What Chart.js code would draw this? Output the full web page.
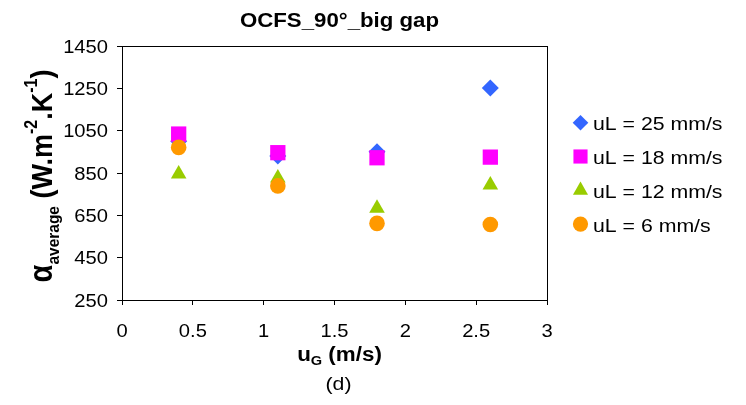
<!DOCTYPE html>
<html>
<head>
<meta charset="utf-8">
<script src="https://cdn.jsdelivr.net/npm/chart.js@4/dist/chart.umd.min.js"></script>
<style>
  html, body { margin: 0; padding: 0; background: #fff; }
  #wrap { width: 746px; height: 405px; }
</style>
</head>
<body>
<div id="wrap"><canvas id="c"></canvas></div>
<script>
// gas velocity (m/s)
var uG = [0.4, 1.1, 1.8, 2.6];

// average heat transfer coefficient (W.m-2.K-1)
var uL25 = [1000, 930, 950, 1252];
var uL18 = [1034, 946, 922, 925];
var uL12 = [845, 826, 683, 793];
var uL6  = [971, 789, 612, 607];

var seriesNames = ['uL = 25 mm/s', 'uL = 18 mm/s', 'uL = 12 mm/s', 'uL = 6 mm/s'];

var xTicks = [0, 0.5, 1, 1.5, 2, 2.5, 3];
var yTicks = [250, 450, 650, 850, 1050, 1250, 1450];

function pts(ys) {
  return uG.map(function (x, i) { return { x: x, y: ys[i] }; });
}

var FONT = '"Liberation Sans", Arial, sans-serif';
var SX = 1.12; // the original text is a little wide

var data = {
  datasets: [
    { label: seriesNames[0], data: pts(uL25), pointStyle: 'rectRot', pointRadius: 8.5,
      backgroundColor: '#3366FF', borderColor: '#3366FF', borderWidth: 0, order: 4 },
    { label: seriesNames[1], data: pts(uL18), pointStyle: 'rect', pointRadius: 10.8,
      backgroundColor: '#FF00FF', borderColor: '#FF00FF', borderWidth: 0, order: 3 },
    { label: seriesNames[2], data: pts(uL12), pointStyle: 'triangle', pointRadius: 9,
      backgroundColor: '#99CC00', borderColor: '#99CC00', borderWidth: 0, order: 2 },
    { label: seriesNames[3], data: pts(uL6), pointStyle: 'circle', pointRadius: 7.8,
      backgroundColor: '#FF9900', borderColor: '#FF9900', borderWidth: 0, order: 1 }
  ]
};

function txt(ctx, s, x, y, font, align) {
  ctx.save();
  ctx.font = font;
  ctx.textAlign = align || 'left';
  ctx.textBaseline = 'alphabetic';
  ctx.translate(x, y);
  ctx.scale(SX, 1);
  ctx.fillText(s, 0, 0);
  ctx.restore();
}

// a run of text pieces with sub/superscripts, centred on cx
function run(ctx, parts, cx, y, sx) {
  var total = 0;
  parts.forEach(function (p) { ctx.font = p.f; total += ctx.measureText(p.t).width; });
  ctx.save();
  ctx.translate(cx, y);
  ctx.scale(sx, 1);
  var x = -total / 2;
  ctx.textAlign = 'left';
  ctx.textBaseline = 'alphabetic';
  parts.forEach(function (p) {
    ctx.font = p.f;
    ctx.fillText(p.t, x, p.dy);
    x += ctx.measureText(p.t).width;
  });
  ctx.restore();
}

var decor = {
  id: 'decor',
  afterDraw: function (chart) {
    var ctx = chart.ctx;
    var a = chart.chartArea;
    var xs = chart.scales.x, ys = chart.scales.y;
    var cx = (a.left + a.right) / 2;
    ctx.save();

    // frame
    ctx.strokeStyle = '#000';
    ctx.lineWidth = 1;
    ctx.strokeRect(a.left + 0.5, a.top + 0.5, a.right - a.left, a.bottom - a.top);

    ctx.fillStyle = '#000';

    // tick labels
    var tf = '18px ' + FONT;
    xTicks.forEach(function (v) {
      txt(ctx, String(v), xs.getPixelForValue(v), a.bottom + 37, tf, 'center');
    });
    yTicks.forEach(function (v) {
      txt(ctx, String(v), a.left - 14, ys.getPixelForValue(v) + 6.5, tf, 'right');
    });

    // title
    run(ctx, [{ t: 'OCFS_90°_big gap', f: 'bold 19.5px ' + FONT, dy: 0 }], cx + 5, 27, 1.14);

    // x title: u_G (m/s)
    run(ctx, [
      { t: 'u', f: 'bold 20px ' + FONT, dy: 0 },
      { t: 'G', f: 'bold 13px ' + FONT, dy: 4 },
      { t: ' (m/s)', f: 'bold 20px ' + FONT, dy: 0 }
    ], cx + 5, 361, SX);

    // caption
    txt(ctx, '(d)', cx + 4, 390, '19px ' + FONT, 'center');

    // y title, rotated
    ctx.save();
    ctx.translate(52, 176);
    ctx.rotate(-Math.PI / 2);
    ctx.scale(1, SX);
    var parts = [
      { t: 'α', f: 'bold 29px ' + FONT, dy: 0 },
      { t: 'average', f: 'bold 15.5px ' + FONT, dy: 6 },
      { t: ' (W.m', f: 'bold 27px ' + FONT, dy: 0 },
      { t: '-2', f: 'bold 16px ' + FONT, dy: -13 },
      { t: '.K', f: 'bold 27px ' + FONT, dy: 0 },
      { t: '-1', f: 'bold 16px ' + FONT, dy: -13 },
      { t: ')', f: 'bold 27px ' + FONT, dy: 0 }
    ];
    run(ctx, parts, 0, 0, 1);
    ctx.restore();

    // legend
    var lx = 580.5, ly = 122.7, step = 33.8;
    var legR = { rectRot: 7.8, rect: 10, triangle: 8.7, circle: 7.6 };
    chart.data.datasets.forEach(function (ds, i) {
      var y = ly + i * step;
      ctx.fillStyle = ds.backgroundColor;
      ctx.strokeStyle = ds.backgroundColor;
      Chart.helpers.drawPoint(ctx, { pointStyle: ds.pointStyle, rotation: 0,
        radius: legR[ds.pointStyle], borderWidth: 0 }, lx, y);
      ctx.fillStyle = '#000';
      txt(ctx, ds.label, lx + 12.5, y + 7.5, '19px ' + FONT, 'left');
    });
    ctx.restore();
  }
};

new Chart(document.getElementById('c'), {
  type: 'scatter',
  data: data,
  options: {
    responsive: true,
    maintainAspectRatio: false,
    animation: false,
    layout: { padding: { top: 46, right: 199, left: 0, bottom: 0 } },
    plugins: {
      legend: { display: false },
      tooltip: { enabled: false }
    },
    scales: {
      x: {
        type: 'linear',
        min: 0, max: 3,
        afterBuildTicks: function (s) { s.ticks = xTicks.map(function (v) { return { value: v }; }); },
        afterFit: function (s) { s.height = 105; },
        grid: { drawOnChartArea: false, drawTicks: true, tickLength: 5, color: '#000' },
        border: { display: true, color: '#000' },
        ticks: { display: false }
      },
      y: {
        type: 'linear',
        min: 250, max: 1450,
        afterBuildTicks: function (s) { s.ticks = yTicks.map(function (v) { return { value: v }; }); },
        afterFit: function (s) { s.width = 122; },
        grid: { drawOnChartArea: false, drawTicks: true, tickLength: 5, color: '#000' },
        border: { display: true, color: '#000' },
        ticks: { display: false }
      }
    }
  },
  plugins: [decor]
});
</script>
</body>
</html>
